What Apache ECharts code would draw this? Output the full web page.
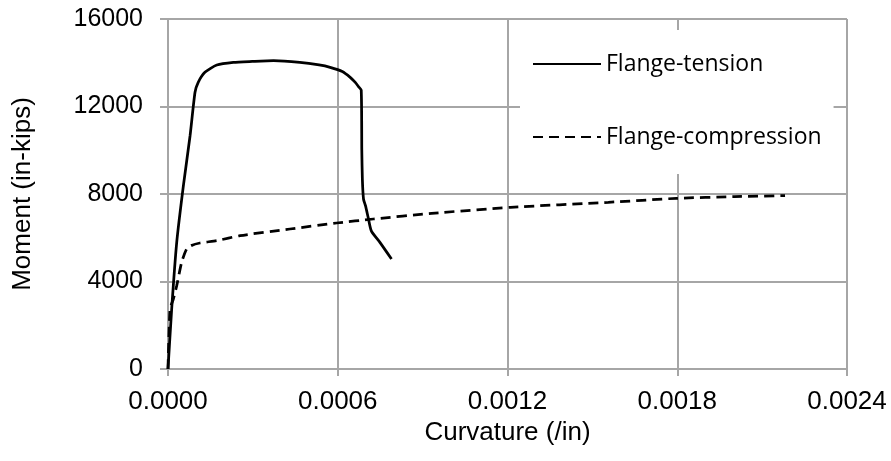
<!DOCTYPE html>
<html>
<head>
<meta charset="utf-8">
<script src="https://cdn.jsdelivr.net/npm/echarts@6/dist/echarts.min.js"></script>
<style>html,body{margin:0;padding:0;background:#fff}#c{width:891px;height:461px}</style>
</head>
<body>
<div id="c"></div>
<script>
var tensionX = [0, 0.0000130, 0.0000308, 0.0000544, 0.0000780, 0.0000955, 0.0001068, 0.0001304, 0.0001725, 0.000231, 0.000298, 0.000373, 0.000466, 0.000534, 0.000573, 0.000616, 0.000644, 0.000662, 0.000674, 0.000683, 0.000685, 0.000687, 0.000691, 0.000698, 0.000708, 0.000719, 0.000749, 0.000790];
var tensionY = [0, 2743, 5790, 8380, 10665, 12650, 13105, 13563, 13897, 14018, 14060, 14095, 14018, 13900, 13790, 13600, 13333, 13100, 12900, 12750, 10000, 8685, 7771, 7466, 6900, 6300, 5790, 5028];
var compressionX = [0, 0.0000071, 0.0000189, 0.0000308, 0.0000482, 0.0000657, 0.0000821, 0.0001129, 0.0001725, 0.0002546, 0.000431, 0.000596, 0.000726, 0.000932, 0.001211, 0.001556, 0.001797, 0.002002, 0.002181];
var compressionY = [0, 2743, 3200, 3810, 4877, 5486, 5640, 5760, 5867, 6095, 6400, 6674, 6857, 7116, 7390, 7619, 7802, 7880, 7924];
var xTicks = ['0.0000', '0.0006', '0.0012', '0.0018', '0.0024'];
var yTicks = ['0', '4000', '8000', '12000', '16000'];
var seriesNames = ['Flange-tension', 'Flange-compression'];

function zip(xs, ys) { return xs.map(function (x, i) { return [x, ys[i]]; }); }

var chart = echarts.init(document.getElementById('c'), null, { renderer: 'canvas' });
var gridColor = '#a6a6a6';
var axisFont = 'Liberation Sans';
chart.setOption({
  animation: false,
  backgroundColor: '#fff',
  grid: { left: 168, right: 44, top: 19, bottom: 92 },
  legend: {
    orient: 'vertical',
    left: 520,
    top: 30,
    padding: [22, 12, 25, 12],
    backgroundColor: '#fff',
    itemWidth: 68,
    itemHeight: 14,
    itemGap: 49,
    itemStyle: { opacity: 0 },
    textStyle: { fontFamily: 'Open Sans', fontSize: 23, lineHeight: 24, color: '#000' },
    data: seriesNames
  },
  xAxis: {
    type: 'value',
    min: 0, max: 0.0024, interval: 0.0006,
    name: 'Curvature (/in)', nameLocation: 'middle', nameGap: 48,
    nameTextStyle: { fontFamily: axisFont, fontSize: 26, color: '#000' },
    axisLine: { show: true, lineStyle: { color: gridColor, width: 2 } },
    axisTick: { show: true, length: 7, lineStyle: { color: gridColor, width: 2 } },
    axisLabel: { margin: 20, fontFamily: axisFont, fontSize: 26, color: '#000',
      formatter: function (v) { return xTicks[Math.round(v / 0.0006)]; } },
    splitLine: { show: true, lineStyle: { color: gridColor, width: 2 } }
  },
  yAxis: {
    type: 'value',
    min: 0, max: 16000, interval: 4000,
    name: 'Moment (in-kips)', nameLocation: 'middle', nameGap: 132, nameRotate: 90,
    nameTextStyle: { fontFamily: axisFont, fontSize: 26, color: '#000' },
    axisLine: { show: true, lineStyle: { color: gridColor, width: 2 } },
    axisTick: { show: true, length: 8, lineStyle: { color: gridColor, width: 2 } },
    axisLabel: { margin: 25, fontFamily: axisFont, fontSize: 25, color: '#000',
      formatter: function (v) { return yTicks[Math.round(v / 4000)]; } },
    splitLine: { show: true, lineStyle: { color: gridColor, width: 2 } }
  },
  series: [
    {
      name: seriesNames[0], type: 'line', data: zip(tensionX, tensionY),
      showSymbol: false, symbol: 'none', smooth: 0.2,
      lineStyle: { color: '#000', width: 2.75, type: 'solid' },
      itemStyle: { color: '#000' }, z: 3
    },
    {
      name: seriesNames[1], type: 'line', data: zip(compressionX, compressionY),
      showSymbol: false, symbol: 'none', smooth: 0.2,
      lineStyle: { color: '#000', width: 2.75, type: [10, 6] },
      itemStyle: { color: '#000' }, z: 3
    }
  ]
});
</script>
</body>
</html>
